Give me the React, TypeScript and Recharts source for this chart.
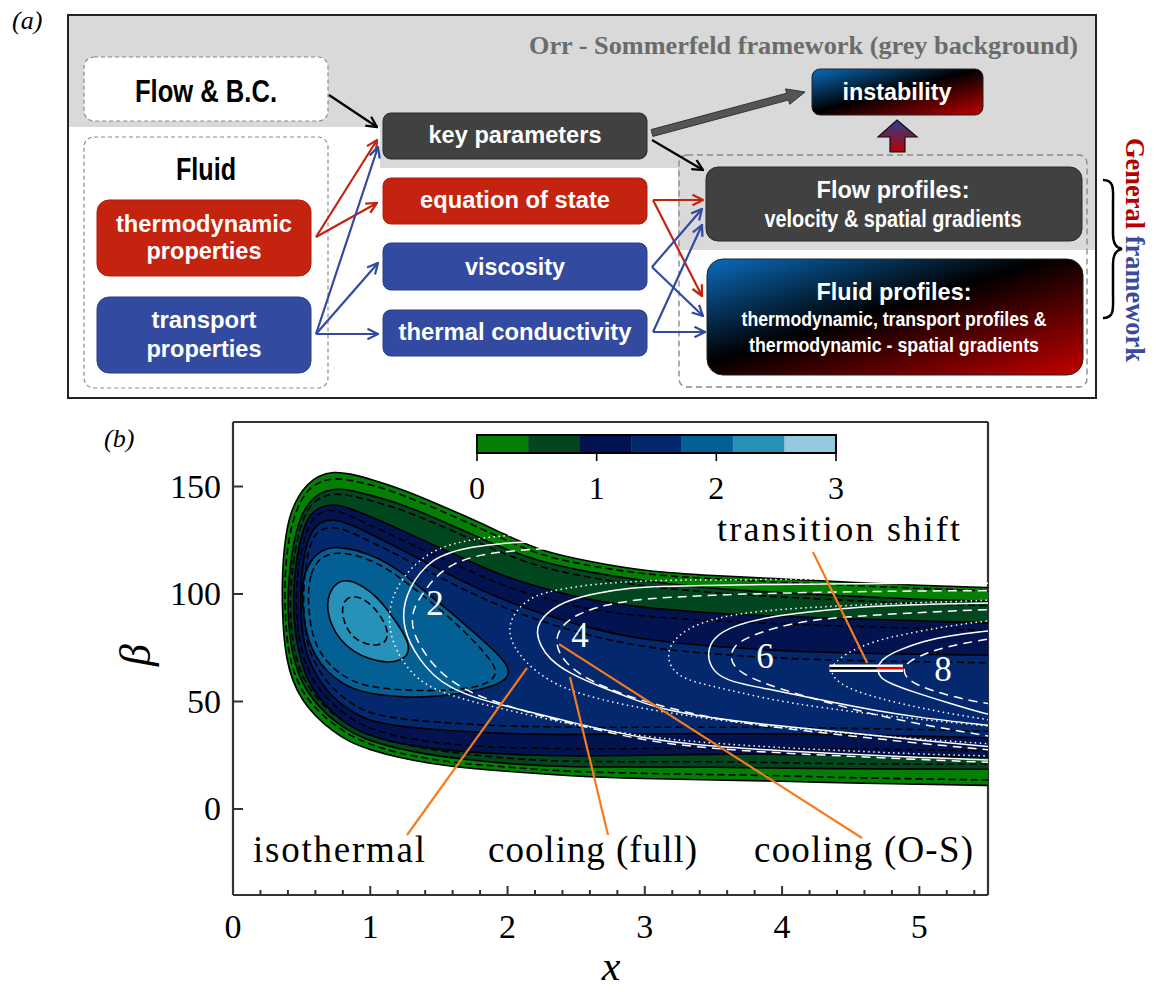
import React from "react";
import { ScatterChart, Scatter, XAxis, YAxis } from "recharts";

type Pt = [number, number];

const SANS = "'Liberation Sans', Arial, sans-serif";
const SERIF = "'Liberation Serif', 'Times New Roman', serif";
const FRAME = "#333";
const ORANGE = "#f47b20";

// colour bar levels and colours
const levels = [0, 0.43, 0.86, 1.29, 1.71, 2.14, 2.57, 3];
const levelColors = ["#038003", "#01461f", "#021350", "#03286d", "#045f95", "#2692ba", "#94c9de"];
const barTicks = [0, 1, 2, 3];

// axis ticks
const xTicks = [0, 0.2, 0.4, 0.6, 0.8, 1, 1.2, 1.4, 1.6, 1.8, 2, 2.2, 2.4, 2.6, 2.8, 3, 3.2, 3.4, 3.6, 3.8, 4, 4.2, 4.4, 4.6, 4.8, 5, 5.2, 5.4];
const xMajor = [0, 1, 2, 3, 4, 5];
const yTicks = [0, 50, 100, 150];

// filled contours (isothermal), outer -> inner, solid black outlines
const fill0: Pt[] = [[5.9,102],[5.5,103],[5.0,104],[4.5,105.5],[4.0,107],[3.5,108.5],[3.0,110.5],[2.6,115],[2.23,120],[1.94,129],[1.7,136],[1.45,143],[1.22,149],[1.0,153.5],[0.85,156],[0.73,157],[0.62,155],[0.54,151],[0.48,146],[0.42,138],[0.385,128],[0.365,116],[0.358,104],[0.36,92],[0.37,80],[0.39,70],[0.43,60],[0.5,51],[0.6,43],[0.72,36.5],[0.85,31],[1.0,27.5],[1.2,24],[1.45,21],[1.7,19],[2.0,17.5],[2.4,15.5],[3.0,14],[3.5,13.5],[4.0,13],[4.5,12],[5.0,11.5],[5.5,11],[5.9,10.5]];
const fill1: Pt[] = [[5.9,96],[5.5,96.5],[5.0,97.5],[4.5,99],[4.0,100.5],[3.5,102.5],[3.0,106],[2.6,110],[2.23,115],[1.94,122],[1.7,129],[1.45,136],[1.22,142],[1.0,146],[0.85,148.5],[0.73,149],[0.63,147],[0.56,143],[0.5,137],[0.455,128],[0.425,117],[0.405,106],[0.4,96],[0.405,86],[0.42,77],[0.45,68],[0.5,59],[0.58,51],[0.68,44],[0.8,38],[0.95,32.5],[1.2,28],[1.45,25],[1.7,23],[2.0,21],[2.4,19.5],[3.0,19.5],[3.5,19.5],[4.0,19],[4.5,18.7],[5.0,18.5],[5.5,18.5],[5.9,18.5]];
const fill2: Pt[] = [[5.9,86],[5.5,86.5],[5.0,87.5],[4.5,88.5],[4.0,89.5],[3.5,91],[3.0,93.5],[2.6,97],[2.23,103],[1.94,109],[1.7,116],[1.45,123],[1.22,130],[1.0,136],[0.85,140],[0.73,142],[0.63,140.5],[0.56,137],[0.51,130],[0.475,121],[0.45,110],[0.44,99],[0.445,88],[0.46,79],[0.49,70],[0.54,60],[0.62,52],[0.72,45],[0.84,39],[0.95,35],[1.2,30.5],[1.45,28],[1.7,26.5],[2.0,25.5],[2.4,24.5],[3.0,25],[3.5,25.5],[4.0,25.5],[4.5,25],[5.0,24.5],[5.5,24],[5.9,24]];
const fill3: Pt[] = [[5.9,71],[5.5,71.5],[5.0,72],[4.5,72.5],[4.0,73.5],[3.5,75.5],[3.0,78.5],[2.6,84],[2.23,91],[1.94,98],[1.7,105],[1.45,113],[1.22,121],[1.0,128],[0.85,132.5],[0.73,135],[0.63,133.5],[0.57,129],[0.53,122],[0.505,112],[0.492,101],[0.495,90],[0.51,80],[0.54,71],[0.6,63],[0.68,55],[0.78,49],[0.9,44],[1.0,41],[1.2,38.5],[1.45,37],[1.7,36],[2.0,35],[2.4,34.5],[3.0,35],[3.5,35],[4.0,35],[4.5,34.5],[5.0,34],[5.5,33],[5.9,33]];
const fill4: Pt[] = [[0.5,100],[0.52,110],[0.58,117],[0.66,121],[0.76,122],[0.9,120.5],[1.05,117],[1.215,111],[1.4,101],[1.58,92],[1.72,84],[1.82,78.5],[1.93,72],[2.01,66],[2.01,61],[1.9,57],[1.7,54.2],[1.46,52],[1.21,52],[0.95,54],[0.8,58],[0.68,64],[0.6,71],[0.545,79],[0.515,89]];
const fill5: Pt[] = [[0.68,95],[0.71,102],[0.77,106],[0.85,106.5],[0.95,103.5],[1.05,98.5],[1.14,91.5],[1.22,84],[1.28,77.5],[1.28,72],[1.22,69],[1.12,68],[1.0,69.5],[0.88,73],[0.78,78.5],[0.71,86]];

// cooling (full) contours of the same levels, dashed black
const dash0: Pt[] = [[5.9,100.5],[5.5,101.5],[5.0,102.5],[4.5,104],[4.0,105.5],[3.5,107],[3.0,109],[2.6,113],[2.23,118],[1.94,126.5],[1.7,133.5],[1.45,140.5],[1.22,146.5],[1.0,151],[0.85,153],[0.73,154],[0.62,152],[0.54,148],[0.49,143],[0.44,135],[0.405,125],[0.385,114],[0.377,103],[0.38,92],[0.39,81],[0.41,71.5],[0.45,62],[0.52,53],[0.62,45.5],[0.74,39],[0.87,33.5],[1.0,30],[1.2,26],[1.45,23],[1.7,21],[2.0,19.5],[2.4,17.5],[3.0,16.5],[3.5,16],[4.0,15.5],[4.5,14.5],[5.0,14],[5.5,13.5],[5.9,13]];
const dash1: Pt[] = [[5.9,94],[5.5,94.5],[5.0,95.5],[4.5,97],[4.0,98.5],[3.5,100.5],[3.0,103.5],[2.6,107.5],[2.23,112.5],[1.94,119.5],[1.7,126.5],[1.45,133.5],[1.22,139.5],[1.0,143.5],[0.85,146],[0.73,146.7],[0.63,145],[0.56,141],[0.51,135],[0.47,126],[0.44,115.5],[0.422,105],[0.417,96],[0.422,86],[0.437,77],[0.467,68.5],[0.515,60.5],[0.59,53],[0.69,46],[0.81,40.5],[0.95,35],[1.2,30.5],[1.45,27.5],[1.7,25.5],[2.0,23.5],[2.4,22],[3.0,22],[3.5,22],[4.0,21.5],[4.5,21],[5.0,20.8],[5.5,20.8],[5.9,20.8]];
const dash2: Pt[] = [[5.9,82.5],[5.5,83],[5.0,84],[4.5,85],[4.0,86],[3.5,87.5],[3.0,89.5],[2.6,92.5],[2.23,98.5],[1.94,104.5],[1.7,111.5],[1.45,118.5],[1.22,125.5],[1.0,132],[0.85,136.5],[0.73,139.5],[0.63,138],[0.57,134],[0.525,127],[0.49,118],[0.468,108],[0.46,98.5],[0.465,88.5],[0.48,79.5],[0.51,71],[0.56,62.5],[0.64,54.5],[0.74,48],[0.86,42],[0.97,38],[1.2,33.5],[1.45,31],[1.7,29.5],[2.0,28.5],[2.4,28],[3.0,28],[3.5,28.5],[4.0,28.5],[4.5,28],[5.0,27.5],[5.5,27],[5.9,27]];
const dash3: Pt[] = [[5.9,67.5],[5.5,68],[5.0,68.5],[4.5,69],[4.0,70],[3.5,72],[3.0,75],[2.6,80.5],[2.23,87.5],[1.94,94.5],[1.7,101.5],[1.45,109.5],[1.22,117.5],[1.0,124.5],[0.85,129],[0.73,131.5],[0.63,130],[0.58,126],[0.545,119],[0.523,110],[0.513,100.5],[0.516,90.5],[0.53,81.5],[0.56,73],[0.615,65.5],[0.69,58.5],[0.79,52.5],[0.9,47.5],[1.0,44.5],[1.2,42],[1.45,40.5],[1.7,39.5],[2.0,38.5],[2.4,38],[3.0,38],[3.5,38],[4.0,38],[4.5,37.5],[5.0,37],[5.5,36],[5.9,36]];
const dash4: Pt[] = [[0.545,100],[0.565,109.5],[0.615,115.5],[0.69,118.5],[0.78,119.3],[0.9,118],[1.05,114.5],[1.2,108.5],[1.38,99.5],[1.55,90.5],[1.68,83],[1.8,75],[1.88,69],[1.92,64.5],[1.9,60.5],[1.82,57.5],[1.7,56],[1.55,55.2],[1.4,55],[1.25,55.3],[1.1,56],[0.95,57.5],[0.82,61],[0.71,66.5],[0.63,73],[0.58,80.5],[0.555,90]];
const dash5: Pt[] = [[0.79,92],[0.81,97],[0.86,99],[0.93,98.5],[1.01,95],[1.08,89.5],[1.13,83],[1.12,78],[1.06,76],[0.97,76.5],[0.88,79.5],[0.82,84.5]];

// N-factor curves: isothermal (solid), cooling full (dashed), cooling O-S (dotted)
const n2Iso: Pt[] = [[2.6,126],[2.2,124.5],[1.94,123.5],[1.75,122],[1.58,119.5],[1.46,116],[1.36,110],[1.29,103],[1.25,96],[1.24,90],[1.25,84],[1.29,77],[1.36,69.5],[1.46,62],[1.58,56.5],[1.75,52],[1.95,48.5],[2.2,44.5],[2.45,40.5],[3.0,32.5],[3.5,29],[4.0,27],[4.5,25.5],[5.0,24],[5.6,22.5]];
const n2Full: Pt[] = [[2.6,122],[2.2,121],[1.94,119.5],[1.75,117.5],[1.6,114],[1.48,108.5],[1.39,101],[1.32,94],[1.3,88],[1.32,81],[1.38,74],[1.47,66],[1.6,59],[1.75,53.5],[1.95,49],[2.2,44],[2.45,40],[3.0,31.5],[3.5,28],[4.0,26],[4.5,24.5],[5.0,23],[5.6,21.5]];
const n2OS: Pt[] = [[2.6,129],[2.2,128],[1.94,127],[1.7,125],[1.5,121.5],[1.35,115.5],[1.23,107],[1.16,98.5],[1.135,90],[1.145,82],[1.19,73.5],[1.28,64.5],[1.42,56.5],[1.7,50.5],[1.94,47],[2.4,40],[3.0,33.5],[3.5,30.5],[4.0,28.5],[4.5,27],[5.0,25.5],[5.6,24.5]];
const n4Iso: Pt[] = [[5.6,105],[5.15,105],[4.5,104.8],[3.93,104.5],[3.4,104],[3.11,103.5],[2.91,103],[2.65,100.5],[2.43,97],[2.3,92],[2.23,87],[2.21,82],[2.24,76],[2.3,70],[2.45,63],[2.67,57],[2.9,51.5],[3.11,46.5],[3.5,42],[4.0,38.5],[4.47,35.5],[5.0,32],[5.6,28.5]];
const n4Full: Pt[] = [[5.6,101.5],[5.0,101.5],[4.5,101],[4.0,100.5],[3.5,99.5],[3.0,98],[2.7,95],[2.5,90.5],[2.39,85],[2.35,79],[2.37,73],[2.45,66],[2.62,59],[2.85,53],[3.11,48],[3.5,42],[4.0,37.5],[4.5,34],[5.0,30.5],[5.6,27]];
const n4OS: Pt[] = [[5.6,107.5],[5.0,107.5],[4.5,107],[4.0,106.8],[3.5,106.5],[3.11,106.5],[2.67,105],[2.4,102.5],[2.19,99.5],[2.07,93],[2.01,86],[2.02,79],[2.08,72],[2.2,64],[2.4,56],[2.7,50.5],[3.0,46.5],[3.5,41.5],[4.0,38],[4.5,35],[5.0,32.5],[5.6,30]];
const n6Iso: Pt[] = [[5.6,96],[5.49,95.8],[5.0,95.2],[4.66,94.4],[4.3,92.5],[3.93,89.8],[3.65,85.5],[3.5,80],[3.45,72.5],[3.49,64],[3.62,59],[3.93,55.5],[4.3,50.5],[4.66,46],[5.0,42.5],[5.49,39],[5.6,38.2]];
const n6Full: Pt[] = [[5.6,93],[5.0,91.5],[4.5,89.5],[4.22,88],[3.95,84.5],[3.75,80],[3.65,76],[3.62,71],[3.65,66],[3.75,61.5],[3.95,56.5],[4.3,50],[4.66,44],[5.0,39.5],[5.49,34],[5.6,33]];
const n6OS: Pt[] = [[5.6,97.5],[5.49,97],[5.0,96],[4.5,94.8],[4.0,93],[3.69,91],[3.4,87],[3.22,80],[3.16,72.5],[3.19,65],[3.3,60],[3.5,57],[3.9,51],[4.3,47],[4.8,43],[5.2,40.5],[5.6,38]];
const n8Iso: Pt[] = [[5.6,83.5],[5.49,82.8],[5.2,80.5],[5.03,78],[4.85,74],[4.73,70],[4.69,65.6],[4.71,61],[4.8,58],[4.93,55],[5.2,49.5],[5.49,44],[5.6,43]];
const n8Full: Pt[] = [[5.6,80],[5.4,78],[5.2,75.5],[5.05,72.5],[4.93,69],[4.88,65.5],[4.9,61],[5.0,57],[5.2,53],[5.4,50],[5.6,48]];
const n8OS: Pt[] = [[5.6,88],[5.49,87.5],[5.2,85],[4.9,81.5],[4.66,78],[4.45,72],[4.35,66],[4.37,61],[4.48,56],[4.7,51.5],[5.0,47],[5.3,43.5],[5.6,40.5]];

// annotation leaders (x, beta)
const leaderTransition: Pt[] = [[4.225, 119.5], [4.62, 67.9]];
const leaderIso: Pt[] = [[1.268, -12.1], [2.142, 65.6]];
const leaderFull: Pt[] = [[2.732, -12.1], [2.455, 61.4]];
const leaderOS: Pt[] = [[4.582, -13.5], [2.375, 76.7]];
// transition shift: N=8 noses of O-S, isothermal and full cooling
const shiftX = [4.345, 4.69, 4.88];
const shiftBeta = 65.5;

const fills = [fill0, fill1, fill2, fill3, fill4, fill5];
const dashes = [dash0, dash1, dash2, dash3, dash4, dash5];
const whiteCurves: { pts: Pt[]; dash?: string }[] = [
  { pts: n2Iso }, { pts: n2Full, dash: "9 6" }, { pts: n2OS, dash: "1.5 3.5" },
  { pts: n4Iso }, { pts: n4Full, dash: "9 6" }, { pts: n4OS, dash: "1.5 3.5" },
  { pts: n6Iso }, { pts: n6Full, dash: "9 6" }, { pts: n6OS, dash: "1.5 3.5" },
  { pts: n8Iso }, { pts: n8Full, dash: "9 6" }, { pts: n8OS, dash: "1.5 3.5" },
];
const segments: { pts: Pt[]; color: string; width: number }[] = [
  { pts: leaderTransition, color: ORANGE, width: 2.2 },
  { pts: leaderIso, color: ORANGE, width: 2.2 },
  { pts: leaderFull, color: ORANGE, width: 2.2 },
  { pts: leaderOS, color: ORANGE, width: 2.2 },
  { pts: [[shiftX[0], shiftBeta], [shiftX[2], shiftBeta]], color: "#fff", width: 7.5 },
  { pts: [[shiftX[0], shiftBeta], [shiftX[1], shiftBeta]], color: "#000", width: 2.6 },
  { pts: [[shiftX[1], shiftBeta], [shiftX[2], shiftBeta]], color: "#e00000", width: 2.6 },
];

// colour-bar cells built from the level list
const barCells: Pt[][] = levelColors.map((_, i) => [
  [levels[i], 0], [levels[i + 1], 0], [levels[i + 1], 1], [levels[i], 1],
]);
const barFrame: Pt[] = [[0, 0], [3, 0], [3, 1], [0, 1]];

const toXY = (pts: Pt[]) => pts.map(([x, y]) => ({ x, y }));
const noDot = () => <g />;

const PLOT = { left: 233, right: 988, top: 422, bottom: 895 };

function BottomTick(props: any) {
  const { x, payload } = props;
  const major = xMajor.includes(payload.value);
  return (
    <g>
      <line x1={x} x2={x} y1={PLOT.bottom} y2={PLOT.bottom - (major ? 9 : 5)} stroke={FRAME} strokeWidth={2} />
      {major && (
        <text x={x} y={938} textAnchor="middle" fontFamily={SERIF} fontSize={34} fill="#000">
          {payload.value}
        </text>
      )}
    </g>
  );
}

function TopTick(props: any) {
  const { x, payload } = props;
  const major = xMajor.includes(payload.value);
  return <line x1={x} x2={x} y1={PLOT.top} y2={PLOT.top + (major ? 9 : 5)} stroke={FRAME} strokeWidth={2} />;
}

function LeftTick(props: any) {
  const { y, payload } = props;
  return (
    <g>
      <line x1={PLOT.left} x2={PLOT.left + 10} y1={y} y2={y} stroke={FRAME} strokeWidth={2} />
      <text x={PLOT.left - 12} y={y + 11} textAnchor="end" fontFamily={SERIF} fontSize={34} fill="#000">
        {payload.value}
      </text>
    </g>
  );
}

function RightTick(props: any) {
  const { y } = props;
  return <line x1={PLOT.right} x2={PLOT.right - 10} y1={y} y2={y} stroke={FRAME} strokeWidth={2} />;
}

function BarTick(props: any) {
  const { x, payload } = props;
  return (
    <g>
      <line x1={x} x2={x} y1={23} y2={31} stroke="#000" strokeWidth={1.6} />
      <text x={x} y={69} textAnchor="middle" fontFamily={SERIF} fontSize={32} fill="#000">
        {payload.value}
      </text>
    </g>
  );
}

function T(p: { x: number; y: number; size?: number; w?: number; fill?: string; family?: string; children: string; anchor?: string }) {
  return (
    <text
      x={p.x}
      y={p.y}
      fontSize={p.size ?? 23}
      fontFamily={p.family ?? SANS}
      fontWeight={700}
      fill={p.fill ?? "#fff"}
      textAnchor={(p.anchor ?? "middle") as any}
      textLength={p.w}
      lengthAdjust="spacingAndGlyphs"
    >
      {p.children}
    </text>
  );
}

const RED = "#c4240f";
const BLUE = "#324a9f";
const DARK = "#414141";

function Diagram() {
  const arrow = (x1: number, y1: number, x2: number, y2: number, c: string, m: string) => (
    <line x1={x1} y1={y1} x2={x2} y2={y2} stroke={c} strokeWidth={2.2} markerEnd={`url(#${m})`} />
  );
  return (
    <svg width={1163} height={402} style={{ position: "absolute", left: 0, top: 0 }}>
      <defs>
        <linearGradient id="gInst" x1="0" y1="0" x2="1" y2="1">
          <stop offset="0" stopColor="#0a6cbc" />
          <stop offset="0.48" stopColor="#000" />
          <stop offset="1" stopColor="#c20000" />
        </linearGradient>
        <linearGradient id="gFluid" x1="0" y1="0" x2="1" y2="1">
          <stop offset="0" stopColor="#0a6cbc" />
          <stop offset="0.45" stopColor="#000" />
          <stop offset="1" stopColor="#c40000" />
        </linearGradient>
        <linearGradient id="gUp" x1="0" y1="0" x2="0" y2="1">
          <stop offset="0" stopColor="#2a3f92" />
          <stop offset="1" stopColor="#b80000" />
        </linearGradient>
        {[["ahK", "#000"], ["ahR", RED], ["ahB", BLUE]].map(([id, c]) => (
          <marker key={id} id={id} viewBox="0 0 10 10" refX="9" refY="5" markerWidth="6" markerHeight="6" orient="auto">
            <path d="M1,1 L9,5 L1,9" fill="none" stroke={c} strokeWidth={1.7} />
          </marker>
        ))}
      </defs>
      <text x={12} y={29} fontFamily={SERIF} fontStyle="italic" fontSize={26}>(a)</text>
      <polygon points="68,15 1096,15 1096,250 678,250 678,168 380,168 380,127 68,127" fill="#d9d9d9" />
      <rect x={68} y={15} width={1028} height={383} fill="none" stroke="#222" strokeWidth={2} />
      <T x={529} y={54} size={26} w={549} anchor="start" family={SERIF} fill="#6b6b6b">Orr - Sommerfeld framework (grey background)</T>

      <rect x={84} y={57} width={244} height={64} rx={10} fill="#fff" stroke="#8a8a8a" strokeDasharray="4 3" strokeWidth={1.2} />
      <rect x={84} y={137} width={244} height={251} rx={10} fill="#fff" stroke="#8a8a8a" strokeDasharray="4 3" strokeWidth={1.2} />
      <rect x={679} y={155} width={408} height={232} rx={8} fill="none" stroke="#8a8a8a" strokeDasharray="6 4" strokeWidth={1.4} />

      <rect x={97} y={200} width={214} height={76} rx={12} fill={RED} stroke="#b01c0a" />
      <rect x={97} y={297} width={214} height={76} rx={12} fill={BLUE} stroke="#2a3f88" />
      <rect x={383} y={113} width={264} height={46} rx={8} fill={DARK} stroke="#2a2a2a" />
      <rect x={383} y={178} width={264} height={46} rx={8} fill={RED} stroke="#b01c0a" />
      <rect x={383} y={243} width={264} height={47} rx={8} fill={BLUE} stroke="#2a3f88" />
      <rect x={383} y={310} width={264} height={46} rx={8} fill={BLUE} stroke="#2a3f88" />
      <rect x={812} y={69} width={171} height={46} rx={8} fill="url(#gInst)" stroke="#222" />
      <rect x={706} y={167} width={376} height={74} rx={12} fill={DARK} stroke="#2a2a2a" />
      <rect x={707} y={259} width={376} height={116} rx={16} fill="url(#gFluid)" stroke="#222" />

      <polygon points="897,120 917,137 905,137 905,152 890,152 890,137 878,137" fill="url(#gUp)" stroke="#111" strokeWidth={1.2} />
      <polygon points="652.9,136.4 788.5,100 789.7,104.3 805,92 785.5,88.9 786.7,93.2 651.1,129.6" fill="#555" stroke="#333" strokeWidth={1} />

      {arrow(329, 95, 377, 127, "#000", "ahK")}
      {arrow(652, 140, 703, 170, "#000", "ahK")}
      {arrow(316, 237, 377, 140, RED, "ahR")}
      {arrow(316, 237, 377, 203, RED, "ahR")}
      {arrow(316, 334, 378, 147, BLUE, "ahB")}
      {arrow(316, 334, 378, 263, BLUE, "ahB")}
      {arrow(316, 334, 378, 334, BLUE, "ahB")}
      {arrow(653, 200, 703, 200, RED, "ahR")}
      {arrow(653, 200, 702, 296, RED, "ahR")}
      {arrow(652, 267, 702, 209, BLUE, "ahB")}
      {arrow(652, 267, 703, 316, BLUE, "ahB")}
      {arrow(653, 332, 702, 225, BLUE, "ahB")}
      {arrow(653, 332, 705, 332, BLUE, "ahB")}

      <T x={206} y={102} size={31} w={142} fill="#000">Flow &amp; B.C.</T>
      <T x={206} y={180} size={31} w={60} fill="#000">Fluid</T>
      <T x={204} y={232} w={176}>thermodynamic</T>
      <T x={204} y={259} w={115}>properties</T>
      <T x={204} y={328} w={105}>transport</T>
      <T x={204} y={357} w={115}>properties</T>
      <T x={515} y={143} w={173}>key parameters</T>
      <T x={515} y={208} w={190}>equation of state</T>
      <T x={515} y={275} w={100}>viscosity</T>
      <T x={515} y={340} w={233}>thermal conductivity</T>
      <T x={897} y={100} w={109}>instability</T>
      <T x={893} y={198} size={24} w={153}>Flow profiles:</T>
      <T x={893} y={227} size={23} w={257}>velocity &amp; spatial gradients</T>
      <T x={894} y={300} size={24} w={155}>Fluid profiles:</T>
      <T x={894} y={326} size={21} w={305}>thermodynamic, transport profiles &amp;</T>
      <T x={894} y={352} size={21} w={290}>thermodynamic - spatial gradients</T>

      <path d="M1103,180 C1115,180 1113,190 1113,205 L1113,234 C1113,244 1116,248 1122,249 C1116,250 1113,254 1113,264 L1113,293 C1113,308 1115,318 1103,318" fill="none" stroke="#000" strokeWidth={2.5} />
      <text transform="rotate(90 1126 138)" x={1126} y={138} fontFamily={SERIF} fontWeight={700} fontSize={28} textLength={224} lengthAdjust="spacingAndGlyphs">
        <tspan fill="#b30000">General </tspan>
        <tspan fill="#3a4aa0">framework</tspan>
      </text>
    </svg>
  );
}

function ContourChart() {
  return (
    <div style={{ position: "absolute", left: 0, top: 0 }}>
      <ScatterChart width={1163} height={992} margin={{ top: 422, right: 175, bottom: 37, left: 173 }}>
        <XAxis dataKey="x" type="number" domain={[0, 5.5]} ticks={xTicks} interval={0} allowDataOverflow height={60}
          tick={BottomTick} tickLine={false} axisLine={{ stroke: FRAME, strokeWidth: 2.2 }} />
        <XAxis xAxisId="top" orientation="top" mirror dataKey="x" type="number" domain={[0, 5.5]} ticks={xTicks} interval={0}
          tick={TopTick} tickLine={false} axisLine={{ stroke: FRAME, strokeWidth: 2.2 }} />
        <YAxis dataKey="y" type="number" domain={[-40, 180]} ticks={yTicks} interval={0} allowDataOverflow width={60}
          tick={LeftTick} tickLine={false} axisLine={{ stroke: FRAME, strokeWidth: 2.2 }} />
        <YAxis yAxisId="r" orientation="right" mirror dataKey="y" type="number" domain={[-40, 180]} ticks={yTicks} interval={0}
          tick={RightTick} tickLine={false} axisLine={{ stroke: FRAME, strokeWidth: 2.2 }} />
        {fills.map((pts, i) => (
          <Scatter key={`f${i}`} data={toXY(pts)} shape={noDot} isAnimationActive={false} legendType="none"
            line={{ fill: levelColors[i], stroke: "#000", strokeWidth: 1.6 }} lineType="joint" lineJointType="basisClosed" />
        ))}
        {dashes.map((pts, i) => (
          <Scatter key={`d${i}`} data={toXY(pts)} shape={noDot} isAnimationActive={false} legendType="none"
            line={{ fill: "none", stroke: "#000", strokeWidth: 1.6, strokeDasharray: "7 4" }} lineType="joint" lineJointType="basisClosed" />
        ))}
        {whiteCurves.map((c, i) => (
          <Scatter key={`w${i}`} data={toXY(c.pts)} shape={noDot} isAnimationActive={false} legendType="none"
            line={{ fill: "none", stroke: "#fff", strokeWidth: 1.5, strokeDasharray: c.dash }} lineType="joint" lineJointType="basis" />
        ))}
        {segments.map((s, i) => (
          <Scatter key={`s${i}`} data={toXY(s.pts)} shape={noDot} isAnimationActive={false} legendType="none"
            line={{ fill: "none", stroke: s.color, strokeWidth: s.width }} lineType="joint" lineJointType="linear" />
        ))}
      </ScatterChart>
    </div>
  );
}

function ColorBar() {
  return (
    <div style={{ position: "absolute", left: 457, top: 430 }}>
      <ScatterChart width={399} height={90} margin={{ top: 5, right: 20, bottom: 0, left: 20 }}>
        <XAxis dataKey="x" type="number" domain={[0, 3]} ticks={barTicks} interval={0} height={67} tick={BarTick} tickLine={false} axisLine={false} />
        <YAxis dataKey="y" type="number" domain={[0, 1]} hide />
        {barCells.map((pts, i) => (
          <Scatter key={`c${i}`} data={toXY(pts)} shape={noDot} isAnimationActive={false} legendType="none"
            line={{ fill: levelColors[i], stroke: levelColors[i], strokeWidth: 0.5 }} lineType="joint" lineJointType="linearClosed" />
        ))}
        <Scatter data={toXY(barFrame)} shape={noDot} isAnimationActive={false} legendType="none"
          line={{ fill: "none", stroke: "#000", strokeWidth: 2 }} lineType="joint" lineJointType="linearClosed" />
      </ScatterChart>
    </div>
  );
}

function Labels() {
  const s = { fontFamily: SERIF, fill: "#000" } as const;
  return (
    <svg width={1163} height={992} style={{ position: "absolute", left: 0, top: 0, pointerEvents: "none" }}>
      <text x={104} y={447} fontSize={26} fontStyle="italic" {...s}>(b)</text>
      <text x={150} y={655} fontSize={44} fontStyle="italic" textAnchor="middle" transform="rotate(-90 150 655)" {...s}>β</text>
      <text x={611} y={980} fontSize={42} fontStyle="italic" textAnchor="middle" {...s}>x</text>
      <text x={717} y={541} fontSize={36} textLength={243} {...s}>transition shift</text>
      <text x={253} y={862} fontSize={37} textLength={172} {...s}>isothermal</text>
      <text x={488} y={862} fontSize={37} textLength={209} {...s}>cooling (full)</text>
      <text x={754} y={862} fontSize={37} textLength={219} {...s}>cooling (O-S)</text>
      <text x={435} y={615} fontSize={35} textAnchor="middle" fontFamily={SERIF} fill="#fff">2</text>
      <text x={580} y={647} fontSize={35} textAnchor="middle" fontFamily={SERIF} fill="#fff">4</text>
      <text x={765} y={668} fontSize={35} textAnchor="middle" fontFamily={SERIF} fill="#fff">6</text>
      <text x={943} y={681} fontSize={35} textAnchor="middle" fontFamily={SERIF} fill="#fff">8</text>
    </svg>
  );
}

export default function App() {
  return (
    <div style={{ position: "absolute", left: 0, top: 0, width: 1163, height: 992, background: "#fff", overflow: "hidden" }}>
      <Diagram />
      <ContourChart />
      <ColorBar />
      <Labels />
    </div>
  );
}
